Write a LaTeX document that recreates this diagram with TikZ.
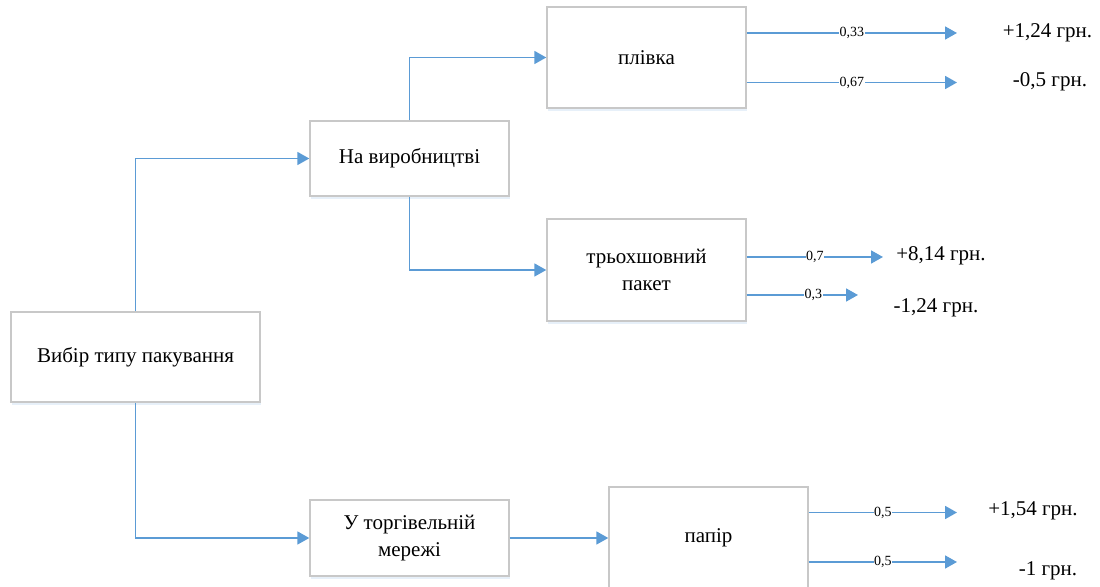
\documentclass[tikz,border=0pt]{standalone}
\usepackage{fontspec}
\setmainfont{Liberation Serif}
\usepackage{xcolor}
\usetikzlibrary{arrows.meta}
\usetikzlibrary{shadows}
\definecolor{linkblue}{RGB}{91,155,213}
\definecolor{boxgray}{RGB}{200,200,200}
\tikzset{
decision/.style={
  rectangle, draw=boxgray, fill=white, line width=0.7pt,
  minimum width=99.5pt, minimum height=50.5pt,
  align=center, font=\fontsize{10.5}{13.5}\selectfont,
  drop shadow={opacity=0.15, shadow xshift=0.6pt, shadow yshift=-1.4pt, fill=linkblue}
},
link/.style={draw=linkblue, line width=0.9pt, -{Triangle[length=6pt,width=6.5pt]}},
prob/.style={fill=white, inner sep=0.3pt, font=\fontsize{7}{8}\selectfont},
payoff/.style={font=\fontsize{10.5}{12.5}\selectfont, inner sep=0pt},
}

\begin{document}
\begin{tikzpicture}[x=0.5pt,y=-0.5pt]
\useasboundingbox (0,0) rectangle (1100,587);
% the boxes
\node[decision, minimum width=124.5pt, minimum height=45pt] (vybir) at (135.5,357) {Вибір типу пакування};
\node[decision, minimum height=37.5pt] (vyrob) at (409.5,158.5) {На виробництві};
\node[decision] (plivka) at (646.5,57.5) {плівка};
\node[decision, minimum height=51pt] (paket) at (646.5,270) {трьохшовний\\пакет};
\node[decision, minimum height=38pt] (torg) at (409.5,538) {У торгівельній\\мережі};
\node[decision] (papir) at (708.5,537.5) {папір};
% the connectors
\draw[link] (vybir.north) |- (vyrob.west);
\draw[link] (vybir.south) |- (torg.west);
\draw[link] (vyrob.north) |- (plivka.west);
\draw[link] (vyrob.south) |- (paket.west);
\draw[link] (torg.east) -- (torg.east -| papir.west);
% the outcomes
\coordinate (e1) at (957,33);
\coordinate (e2) at (957,82.5);
\coordinate (e3) at (883,257);
\coordinate (e4) at (858,295);
\coordinate (e5) at (957,512.5);
\coordinate (e6) at (957,562);
\node[payoff] (v1) at (1047.5,33) {+1,24 грн.};
\node[payoff] (v2) at (1050,82) {-0,5 грн.};
\node[payoff] (v3) at (941,256) {+8,14 грн.};
\node[payoff] (v4) at (936,308) {-1,24 грн.};
\node[payoff] (v5) at (1033,511) {+1,54 грн.};
\node[payoff] (v6) at (1048,571) {-1 грн.};
\foreach \from/\to/\p/\where in {plivka/e1/{0,33}/0.5, plivka/e2/{0,67}/0.5, paket/e3/{0,7}/0.5, paket/e4/{0,3}/0.6, papir/e5/{0,5}/0.5, papir/e6/{0,5}/0.5}
{
  \draw[link] (\from.east |- \to) -- node[prob, pos=\where] {\p} (\to);
}
\end{tikzpicture}
\end{document}
